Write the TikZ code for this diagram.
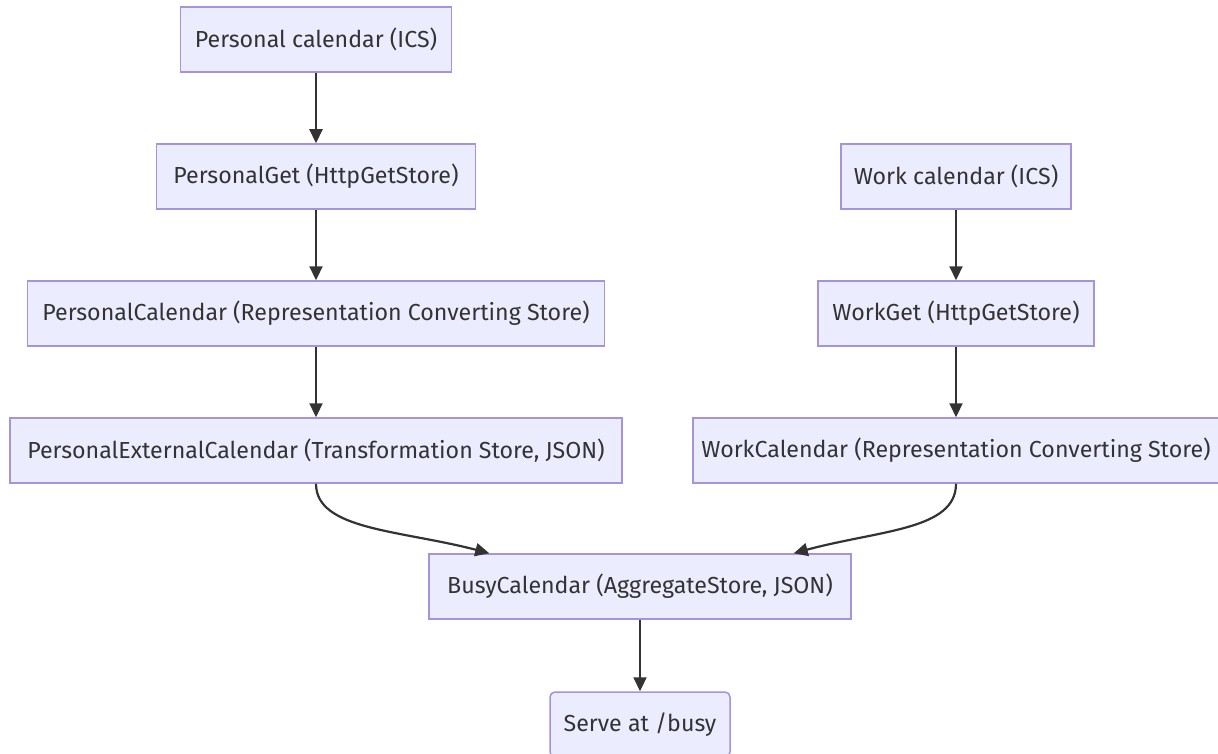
\documentclass[tikz,border=0pt]{standalone}
\usepackage{fontspec}
\setmainfont{Fira Sans}
\usetikzlibrary{arrows.meta}
\definecolor{boxfill}{HTML}{ECECFF}
\definecolor{boxline}{HTML}{A594DC}
\definecolor{ink}{HTML}{333333}
\tikzset{
  box/.style={draw=boxline, fill=boxfill, line width=1.5pt, text=ink,
    minimum height=65pt, inner sep=0pt, font=\fontsize{23.2}{27}\selectfont},
  rbox/.style={box, rounded corners=5pt},
  link/.style={draw=ink, line width=2.2pt, -{Triangle[length=14pt,width=13pt]}}
}
\begin{document}
\begin{tikzpicture}[x=1pt,y=-1pt]
\useasboundingbox[fill=white] (0,0) rectangle (1218,754);
\node[box, minimum width=271pt] (pc) at (316,39.5) {Personal calendar (ICS)};
\node[box, minimum width=319pt] (pg) at (316,176.5) {PersonalGet (HttpGetStore)};
\node[box, minimum width=577pt] (pcal) at (316,313.5) {PersonalCalendar (Representation Converting Store)};
\node[box, minimum width=612pt] (pext) at (316,450.5) {PersonalExternalCalendar (Transformation Store, JSON)};
\node[box, minimum width=230pt] (wc) at (956,176.5) {Work calendar (ICS)};
\node[box, minimum width=276pt] (wg) at (956,313.5) {WorkGet (HttpGetStore)};
\node[box, minimum width=526pt] (wcal) at (956,450.5) {WorkCalendar (Representation Converting Store)};
\node[box, minimum width=422pt] (busy) at (640,586.5) {BusyCalendar (AggregateStore, JSON)};
\node[rbox, minimum width=180pt] (serve) at (640,724.5) {Serve at /busy};
\draw[link] (pc) -- (pg);
\draw[link] (pg) -- (pcal);
\draw[link] (pcal) -- (pext);
\draw[link] (wc) -- (wg);
\draw[link] (wg) -- (wcal);
\draw[link] (pext.south) .. controls (316,530) and (400,530) .. ([xshift=61pt]busy.north west);
\draw[link] (wcal.south) .. controls (956,530) and (880,530) .. ([xshift=-58pt]busy.north east);
\draw[link] (busy) -- (serve);
\end{tikzpicture}
\end{document}
